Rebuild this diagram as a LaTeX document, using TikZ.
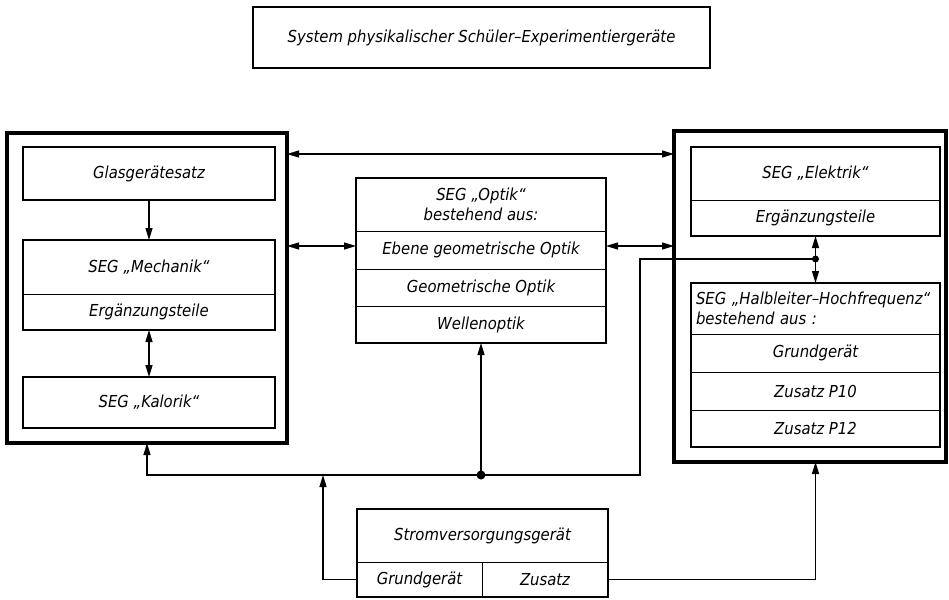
\documentclass[tikz,border=0pt]{standalone}
\usepackage{fontspec}
\setmainfont{DejaVu Sans Condensed Oblique}
\usetikzlibrary{arrows.meta,fit}
\tikzset{
  kitframe/.style={draw, line width=3.2pt, outer sep=0pt},
  unit/.style={draw, line width=2pt, inner sep=0pt, outer sep=0pt, align=center},
  part/.style={draw, line width=1pt, inner sep=2pt, outer sep=0pt, align=center},
  feed/.style={-{Triangle[length=12pt,width=7pt]}, line width=1.2pt},
  link/.style={feed, {Triangle[length=12pt,width=7pt]}-{Triangle[length=12pt,width=7pt]}},
  dot/.style={fill}
}

\begin{document}
\begin{tikzpicture}[x=1pt,y=-1pt,
    every node/.style={font=\fontsize{16.5}{20}\selectfont}]
  \useasboundingbox (0,0) rectangle (949,599);

  \node[unit, minimum width=457, minimum height=61] (title) at (481.5,37.5)
    {System physikalischer Schüler–Experimentiergeräte};

  % left group
  \node[kitframe, minimum width=280, minimum height=310] (leftkit) at (147,288) {};
  \node[unit, minimum width=252, minimum height=53] (glas) at (149,173.5) {Glasgerätesatz};
  \node[part, minimum width=252, minimum height=54] (mech) at (149,267) {SEG „Mechanik“};
  \node[part, minimum width=252, minimum height=36] (mechext) at (149,312) {Ergänzungsteile};
  \node[unit, fit=(mech)(mechext)] (mechanik) {};
  \node[unit, minimum width=252, minimum height=51] (kalorik) at (149,402.5) {SEG „Kalorik“};

  % optics
  \node[part, minimum width=250, minimum height=53] (optkopf) at (481,204.5)
    {SEG „Optik“\\bestehend aus:};
  \node[part, minimum width=250, minimum height=38] (optebene) at (481,250) {Ebene geometrische Optik};
  \node[part, minimum width=250, minimum height=37] (optgeo) at (481,287.5) {Geometrische Optik};
  \node[part, minimum width=250, minimum height=37] (optwelle) at (481,324.5) {Wellenoptik};
  \node[unit, fit=(optkopf)(optwelle)] (optik) {};

  % right group
  \node[kitframe, minimum width=272, minimum height=331] (rightkit) at (810,296.5) {};
  \node[part, minimum width=249, minimum height=53] (elek) at (815.5,173.5) {SEG „Elektrik“};
  \node[part, minimum width=249, minimum height=36] (elekext) at (815.5,218) {Ergänzungsteile};
  \node[unit, fit=(elek)(elekext)] (elektrik) {};
  \node[part, minimum height=51, inner xsep=5pt, text width=239, align=left] (hlkopf) at (815.5,308.5)
    {\mbox{SEG „Halbleiter–Hochfrequenz“}\\bestehend aus :};
  \node[part, minimum width=249, minimum height=38] (hlgrund) at (815.5,353) {Grundgerät};
  \node[part, minimum width=249, minimum height=38] (hlp10) at (815.5,391) {Zusatz P10};
  \node[part, minimum width=249, minimum height=37] (hlp12) at (815.5,428.5) {Zusatz P12};
  \node[unit, fit=(hlkopf)(hlp12)] (halbleiter) {};

  % power supply
  \node[part, minimum width=251, minimum height=53] (strom) at (482.5,535.5) {Stromversorgungsgerät};
  \node[part, minimum width=125, minimum height=35] (grund) at (419.5,579.5) {Grundgerät};
  \node[part, minimum width=126, minimum height=35] (zusatz) at (545,579.5) {Zusatz};
  \node[unit, fit=(strom)(grund)(zusatz)] (stromkit) {};

  \coordinate (toplink) at (480,154);
  \coordinate (midlink) at (480,246);
  \coordinate (bus) at (481,475);
  \coordinate (tap) at (323,475);
  \coordinate (busend) at (640,475);
  \coordinate (hfdot) at (815.5,259);

  \draw[link] (toplink -| leftkit.east) -- (toplink -| rightkit.west);
  \draw[feed] (glas) -- (mech);
  \draw[link] (mechext) -- (kalorik);
  \draw[link] (midlink -| leftkit.east) -- (midlink -| optik.west);
  \draw[link] (midlink -| optik.east) -- (midlink -| rightkit.west);
  \draw[link] (elekext) -- (hlkopf);

  \draw[feed] (bus) -- (optik.south);
  \draw[feed] (busend) -- (bus) -| (leftkit.south);
  \draw[line width=1.2pt] (bus) -- (busend) |- (hfdot);
  \draw[feed] (grund.west) -| (tap);
  \draw[feed] (zusatz.east) -| (hfdot |- rightkit.south);
  \fill[dot] (bus) circle (4.5);
  \fill[dot] (hfdot) circle (3.5);
\end{tikzpicture}
\end{document}
